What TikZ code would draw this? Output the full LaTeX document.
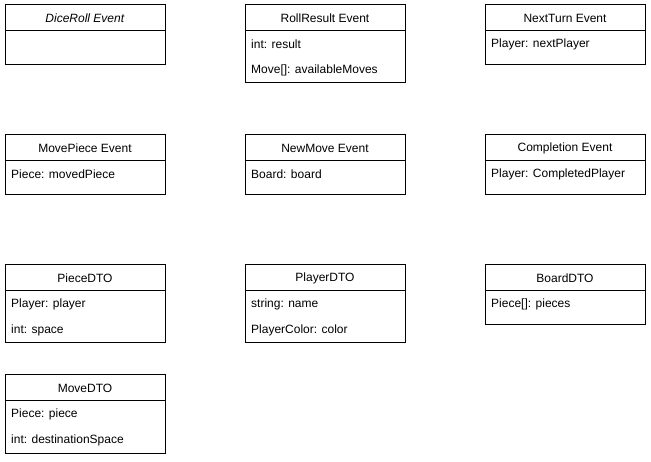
\documentclass[tikz,border=0pt]{standalone}
\usepackage{fontspec}
\setmainfont{Liberation Sans}
\usetikzlibrary{positioning}
\begin{document}
\begin{tikzpicture}[x=1pt,y=-1pt,
    classhead/.style={draw,line width=1pt,minimum width=160pt,minimum height=26pt,
      inner sep=0pt,outer sep=0pt,font=\fontsize{12}{14}\selectfont},
    classbody/.style={draw,line width=1pt,minimum width=160pt,inner sep=0pt,outer sep=0pt},
    field/.style={anchor=west,inner sep=0pt,font=\fontsize{12}{14}\selectfont}]
  \fill[white] (0,0) rectangle (651,462);
  \useasboundingbox (0,0) rectangle (651,462);
  % events
  \node[classhead] (diceroll) at (85,18) {\textit{DiceRoll Event}};
  \node[classbody,minimum height=34pt,below=0pt of diceroll] (dicerollbody) {};
  \node[classhead] (rollresult) at (325,18) {RollResult Event};
  \node[classbody,minimum height=52pt,below=0pt of rollresult] (rollresultbody) {};
  \node[field] (result) at (251,44) {int: result};
  \node[field] (availablemoves) at (251,70) {Move[]: availableMoves};
  \node[classhead] (nextturn) at (565,18) {NextTurn Event};
  \node[classbody,minimum height=34pt,below=0pt of nextturn] (nextturnbody) {};
  \node[field] (nextplayer) at (491,44) {Player: nextPlayer};
  \node[classhead] (movepiece) at (85,148) {MovePiece Event};
  \node[classbody,minimum height=34pt,below=0pt of movepiece] (movepiecebody) {};
  \node[field] (movedpiece) at (11,174) {Piece: movedPiece};
  \node[classhead] (newmove) at (325,148) {NewMove Event};
  \node[classbody,minimum height=34pt,below=0pt of newmove] (newmovebody) {};
  \node[field] (board) at (251,174) {Board: board};
  \node[classhead] (completion) at (565,148) {Completion Event};
  \node[classbody,minimum height=34pt,below=0pt of completion] (completionbody) {};
  \node[field] (completedplayer) at (491,174) {Player: CompletedPlayer};
  % dtos
  \node[classhead] (piecedto) at (85,278) {PieceDTO};
  \node[classbody,minimum height=52pt,below=0pt of piecedto] (piecedtobody) {};
  \node[field] (player) at (11,304) {Player: player};
  \node[field] (space) at (11,330) {int: space};
  \node[classhead] (playerdto) at (325,278) {PlayerDTO};
  \node[classbody,minimum height=52pt,below=0pt of playerdto] (playerdtobody) {};
  \node[field] (name) at (251,304) {string: name};
  \node[field] (color) at (251,330) {PlayerColor: color};
  \node[classhead] (boarddto) at (565,278) {BoardDTO};
  \node[classbody,minimum height=34pt,below=0pt of boarddto] (boarddtobody) {};
  \node[field] (pieces) at (491,304) {Piece[]: pieces};
  \node[classhead] (movedto) at (85,388) {MoveDTO};
  \node[classbody,minimum height=52pt,below=0pt of movedto] (movedtobody) {};
  \node[field] (piece) at (11,414) {Piece: piece};
  \node[field] (destinationspace) at (11,440) {int: destinationSpace};
\end{tikzpicture}
\end{document}
